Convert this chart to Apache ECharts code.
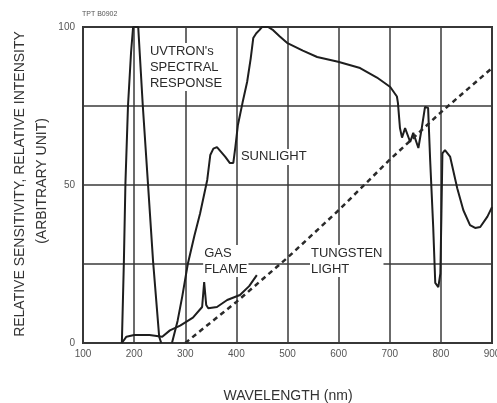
<!DOCTYPE html>
<html><head><meta charset="utf-8">
<script src="https://cdn.jsdelivr.net/npm/echarts@6/dist/echarts.min.js"></script>
<style>html,body{margin:0;padding:0;background:#fff}#c{width:497px;height:403px}</style>
</head><body><div id="c"></div>
<script>
// ---- data (wavelength nm, relative value) ----
const yLabelValues = [0, 50, 100];
const uvtron = [[176,0],[180,26],[183,50.6],[188,75],[194,92],[198,100],[208,100],[217,75],[227,50.6],[237,26],[249,2],[253,0]];
const sunlight = [[274,0],[285,7],[294,14.6],[305,25],[318,34],[329,41],[343,51.6],[349,59.5],[355,61.5],[362,62],[370,60.5],[378,59],[387,57],[394,57],[398,62],[403,69],[412,76],[421,82.6],[428,90],[433,96.5],[439,98],[445,99],[450,100],[462,100],[472,99],[485,97],[499,95],[530,92.5],[558,90.5],[599,89],[642,87],[675,84],[701,81],[714,78],[716,76],[720,68],[724,65],[730,68],[740,63.6],[746,66.5],[756,61.7],[763,68.4],[769,74.7],[775,74.4],[779,58],[785,36.7],[789,19],[795,17.7],[799,22],[801,40],[803,60],[808,61],[818,59],[832,49],[844,42],[857,37.3],[867,36.4],[877,36.7],[891,40],[900,43]];
const gasFlame = [[176,0],[185,2],[200,2.5],[230,2.5],[255,2],[270,4],[290,5.5],[315,8],[333,11.4],[337,19.3],[341,12],[345,11],[362,11.4],[382,13.6],[407,15.2],[425,18],[440,21.5]];
const tungsten = [[300,0],[400,13],[500,27],[600,42],[700,58],[800,73],[900,87]];
const annotations = [
  {text:"UVTRON's\nSPECTRAL\nRESPONSE", at:[229,92.4]},
  {text:"SUNLIGHT", at:[407,58.9]},
  {text:"GAS\nFLAME", at:[335,28.5]},
  {text:"TUNGSTEN\nLIGHT", at:[544,28.5]}
];
const xTitle = 'WAVELENGTH (nm)';
const yTitle = 'RELATIVE SENSITIVITY, RELATIVE INTENSITY';
const yTitle2 = '(ARBITRARY UNIT)';
const figCode = 'TPT B0902';

const chart = echarts.init(document.getElementById('c'), null, {renderer:'canvas'});
const FONT = 'Liberation Sans, Arial, sans-serif';
function solid(name, data, w){
  return {name, type:'line', data, showSymbol:false, symbol:'none', smooth:false,
    lineStyle:{color:'#1e1e1e', width:w||2}, z:3, silent:true};
}
chart.setOption({
  animation:false,
  grid:{left:83,right:5,top:27,bottom:60,show:true,borderColor:'#333',borderWidth:2,containLabel:false,outerBoundsMode:'none'},
  xAxis:{type:'value',min:100,max:900,interval:100,
    axisLine:{show:false},axisTick:{show:false},
    splitLine:{show:true,lineStyle:{color:'#3a3a3a',width:1.5}},
    axisLabel:{fontSize:10,color:'#555',margin:6,fontFamily:FONT,showMaxLabel:true,showMinLabel:true}},
  yAxis:{type:'value',min:0,max:100,interval:25,
    axisLine:{show:false},axisTick:{show:false},
    splitLine:{show:true,lineStyle:{color:'#3a3a3a',width:1.5}},
    axisLabel:{fontSize:10,color:'#555',margin:8,fontFamily:FONT,
      formatter:v=>yLabelValues.includes(v)?String(v):''}},
  series:[
    solid('uvtron',uvtron,2),
    solid('sunlight',sunlight,2),
    solid('gas',gasFlame,2),
    {name:'tungsten',type:'line',data:tungsten,showSymbol:false,symbol:'none',
      lineStyle:{color:'#2a2a2a',width:2.5,type:[5,4]},z:3,silent:true}
  ]
});
const g = annotations.map(a=>{
  const p = chart.convertToPixel({gridIndex:0}, a.at);
  return {type:'text', x:p[0], y:p[1] - 8, z:10,
    style:{text:a.text, fill:'#2a2a2a', font:'13px '+FONT, lineHeight:16,
      backgroundColor:'#fff', align:'left', verticalAlign:'top', padding:[0,1]}};
});
g.push({type:'text', x:288, y:396, style:{text:xTitle, fill:'#333', font:'14px '+FONT, align:'center', verticalAlign:'middle'}});
g.push({type:'text', x:20, y:184, rotation:Math.PI/2, style:{text:yTitle, fill:'#333', font:'14px '+FONT, align:'center', verticalAlign:'middle'}});
g.push({type:'text', x:42, y:181, rotation:Math.PI/2, style:{text:yTitle2, fill:'#333', font:'14px '+FONT, align:'center', verticalAlign:'middle'}});
g.push({type:'text', x:82, y:14, style:{text:figCode, fill:'#555', font:'7px '+FONT, align:'left', verticalAlign:'middle'}});
chart.setOption({graphic:g});
</script></body></html>
